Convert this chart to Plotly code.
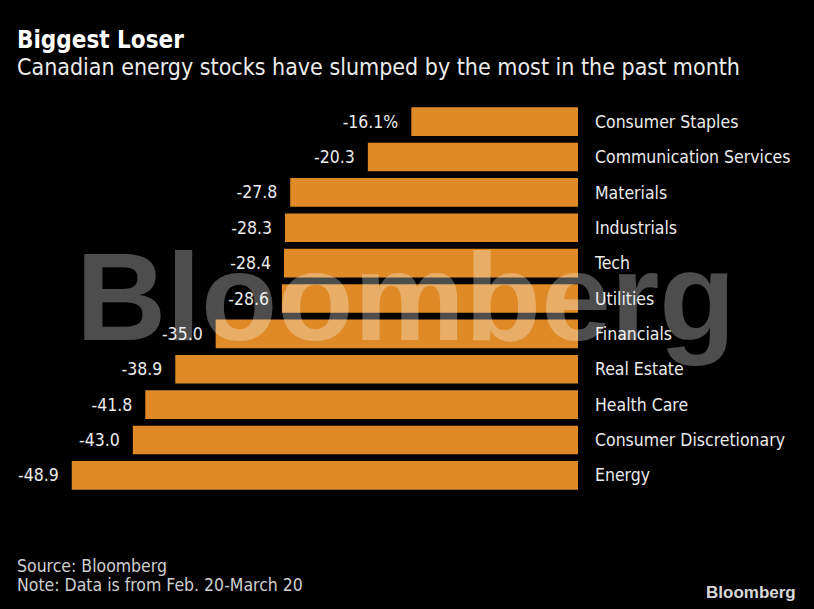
import plotly.graph_objects as go

categories = ["Consumer Staples", "Communication Services", "Materials", "Industrials",
              "Tech", "Utilities", "Financials", "Real Estate", "Health Care",
              "Consumer Discretionary", "Energy"]
values = [-16.1, -20.3, -27.8, -28.3, -28.4, -28.6, -35.0, -38.9, -41.8, -43.0, -48.9]
value_labels = ["-16.1%", "-20.3", "-27.8", "-28.3", "-28.4", "-28.6", "-35.0", "-38.9",
                "-41.8", "-43.0", "-48.9"]

W, H = 814, 609
ML, MR, MT, MB = 20, 236, 104, 116
PW = W - ML - MR
PH = H - MT - MB

FONT = "DejaVu Sans Condensed, DejaVu Sans, sans-serif"
ORANGE = "#df8a26"
TXT = "#ececec"

def px(x):
    return (x - ML) / PW

def py(y):
    return 1 - (y - MT) / PH

fig = go.Figure()
fig.add_trace(go.Bar(
    x=values, y=categories, orientation="h",
    marker=dict(color=ORANGE, line=dict(width=0)),
    text=[t + "  " for t in value_labels], textposition="outside",
    textfont=dict(family=FONT, size=17.5, color=TXT),
    cliponaxis=False, hoverinfo="skip",
))

annotations = [
    dict(text="<b>Biggest Loser</b>", x=px(15), y=py(40), xref="paper", yref="paper",
         xanchor="left", yanchor="middle", showarrow=False,
         font=dict(family=FONT, size=24, color="#ffffff")),
    dict(text="Canadian energy stocks have slumped by the most in the past month",
         x=px(15), y=py(67), xref="paper", yref="paper",
         xanchor="left", yanchor="middle", showarrow=False,
         font=dict(family=FONT, size=23, color=TXT)),
    dict(text="Source: Bloomberg", x=px(15), y=py(566), xref="paper", yref="paper",
         xanchor="left", yanchor="middle", showarrow=False,
         font=dict(family=FONT, size=17.5, color="#cfcfcf")),
    dict(text="Note: Data is from Feb. 20-March 20", x=px(15), y=py(585), xref="paper", yref="paper",
         xanchor="left", yanchor="middle", showarrow=False,
         font=dict(family=FONT, size=17.5, color="#cfcfcf")),
    dict(text="<b>Bloomberg</b>", x=px(798), y=py(592), xref="paper", yref="paper",
         xanchor="right", yanchor="middle", showarrow=False,
         font=dict(family="Liberation Sans, Arial, sans-serif", size=17, color="#d8d8d8")),
    dict(text="<b>Bloomberg</b>", x=px(406), y=py(296), xref="paper", yref="paper",
         xanchor="center", yanchor="middle", showarrow=False,
         font=dict(family="Liberation Sans, Arial, sans-serif", size=125,
                   color="rgba(255,255,255,0.3)")),
]

fig.update_layout(
    width=W, height=H,
    margin=dict(l=ML, r=MR, t=MT, b=MB, pad=0),
    paper_bgcolor="#000000", plot_bgcolor="#000000",
    showlegend=False, bargap=0.19,
    xaxis=dict(range=[-53.9, 0], visible=False, fixedrange=True),
    yaxis=dict(categoryorder="array", categoryarray=categories, autorange="reversed",
               side="right", showgrid=False, zeroline=False, showline=False,
               ticks="", ticklabelstandoff=16,
               tickfont=dict(family=FONT, size=17.5, color=TXT), fixedrange=True),
    annotations=annotations,
)

fig.write_html("out.html")
